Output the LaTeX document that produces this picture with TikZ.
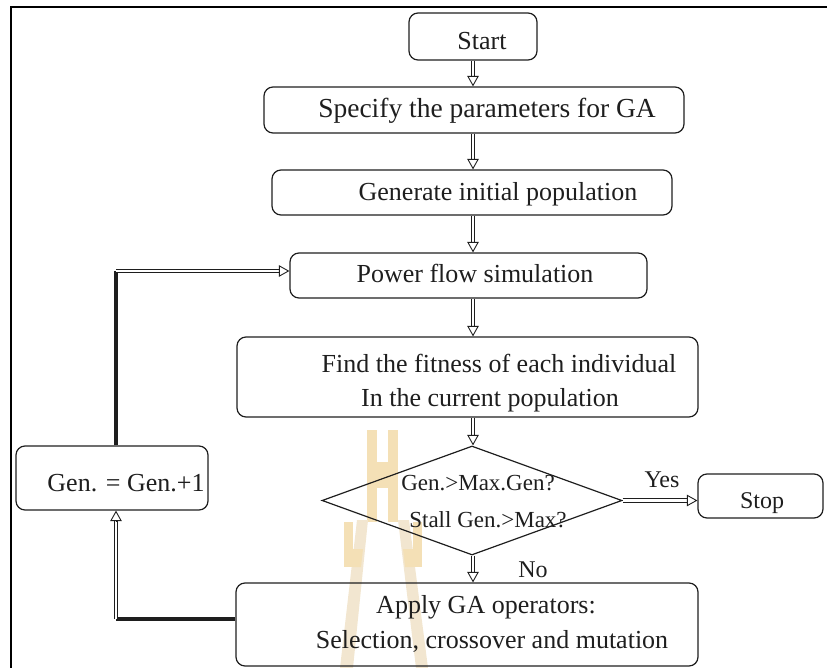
\documentclass[tikz,border=0pt]{standalone}
\usepackage{fontspec}
\setmainfont{Liberation Serif}
\usetikzlibrary{arrows.meta,shapes.geometric,calc}
\definecolor{crest}{RGB}{244,224,182}
\definecolor{crestlight}{RGB}{242,230,208}
\definecolor{ink}{RGB}{30,30,30}

% double-line connector: hollow shaft plus an open triangular head
\newcommand\dblarrow[2]{%
  \draw[shaft] (#1) -- (#2);
  \draw[tipline] ($(#2)!10.5pt!(#1)$) -- (#2);
}

\begin{document}
\begin{tikzpicture}[x=1pt,y=-1pt,
  box/.style={draw=ink, line width=1.2pt, rounded corners=9pt, inner sep=0pt},
  lbl/.style={inner sep=0pt, anchor=base, text=ink},
  body/.style={lbl, font=\fontsize{26}{30}\selectfont},
  small/.style={lbl, font=\fontsize{23}{27}\selectfont},
  mid/.style={lbl, font=\fontsize{24}{28}\selectfont},
  shaft/.style={draw=ink, line width=0.9pt, double=white, double distance=2.6pt, shorten >=8pt},
  tipline/.style={draw=ink, line width=0.9pt, -{Triangle[length=10.5pt, width=11.5pt, fill=white]}},
  heavy/.style={draw=ink, line width=3.4pt},
  frameline/.style={draw=black, line width=1.6pt},
]
\useasboundingbox (0,0) rectangle (827,668);

% faint crest behind the lower part of the chart
\begin{scope}
  % upper spire
  \fill[crest] (367,430) -- (377,430) -- (377,522) -- (367,522) -- cycle;
  \fill[crest] (388,430) -- (398,430) -- (398,522) -- (388,522) -- cycle;
  \fill[crest] (377,462) -- (388,462) -- (388,488) -- (377,488) -- cycle;
  % legs
  \fill[crestlight] (357,520) -- (368,520) -- (353,668) -- (340,668) -- cycle;
  \fill[crestlight] (398,520) -- (409,520) -- (428,668) -- (416,668) -- cycle;
  % side bars with their cross pieces
  \fill[crest] (344,522) -- (353,522) -- (353,567) -- (344,567) -- cycle;
  \fill[crest] (413,522) -- (422,522) -- (422,567) -- (413,567) -- cycle;
  \fill[crest] (353,549) -- (363,549) -- (361,567) -- (353,567) -- cycle;
  \fill[crest] (403,549) -- (413,549) -- (413,567) -- (405,567) -- cycle;
\end{scope}

% frame
\coordinate (fa) at (11,668);
\coordinate (fb) at (11,7);
\coordinate (fc) at (827,7);
\draw[frameline] (fa) -- (fb) -- (fc);

% boxes
\node[box, minimum width=128pt, minimum height=47pt] (start) at (473,36.5) {};
\node[box, minimum width=420pt, minimum height=46pt] (spec)  at (474,110) {};
\node[box, minimum width=400pt, minimum height=45pt] (init)  at (472,192.5) {};
\node[box, minimum width=357pt, minimum height=45pt] (power) at (468.5,275.5) {};
\node[box, minimum width=461pt, minimum height=80pt] (fit)   at (467.5,377) {};
\node[draw=ink, line width=1.2pt, diamond, aspect=2.75, inner sep=0pt,
      minimum width=300pt, minimum height=109pt] (dec) at (472,500.5) {};
\node[box, minimum width=125pt, minimum height=44pt] (stop)  at (760.5,496) {};
\node[box, minimum width=462pt, minimum height=83pt] (apply) at (467,624.5) {};
\node[box, minimum width=192pt, minimum height=64pt] (incr)  at (112,478) {};

% texts
\node[body] (t-start) at (482,50) {Start};
\node[lbl, font=\fontsize{27.5}{31}\selectfont] (t-spec) at (487,118) {Specify the parameters for GA};
\node[body] (t-init) at (498,201) {Generate initial population};
\node[body] (t-power) at (475,283) {Power flow simulation};
\node[body] (t-fit1) at (499,372) {Find the fitness of each individual};
\node[body] (t-fit2) at (490,406) {In the current population};
\node[body] (t-incr) at (126,491) {Gen. = Gen.+1};
\node[small] (t-dec1) at (478,490) {Gen.>Max.Gen?};
\node[small] (t-dec2) at (488,527) {Stall Gen.>Max?};
\node[mid] (t-yes) at (662,487) {Yes};
\node[mid] (t-stop) at (762,508) {Stop};
\node[mid] (t-no) at (533,577) {No};
\node[body] (t-app1) at (486,613) {Apply GA operators:};
\node[body] (t-app2) at (492,648) {Selection, crossover and mutation};

% main column of connectors
\coordinate (col) at (473,0);
\dblarrow{start.south}{col |- spec.north}
\dblarrow{col |- spec.south}{col |- init.north}
\dblarrow{col |- init.south}{col |- power.north}
\dblarrow{col |- power.south}{col |- fit.north}
\dblarrow{col |- fit.south}{col |- dec.north}
\dblarrow{col |- dec.south}{col |- apply.north}
\coordinate (ye) at (dec.east -| stop.west);
\dblarrow{dec.east}{ye}

% feedback loop through the generation counter
\coordinate (lo) at (116,619);
\coordinate (lo-end) at (lo |- incr.south);
\coordinate (lo-start) at (lo -| apply.west);
\draw[heavy] (lo-start) -- (lo);
\dblarrow{lo}{lo-end}
\coordinate (hi) at (116,271);
\coordinate (hi-start) at (hi |- incr.north);
\coordinate (hi-end) at (hi -| power.west);
\draw[heavy] (hi-start) -- (hi);
\dblarrow{hi}{hi-end}
\end{tikzpicture}
\end{document}
